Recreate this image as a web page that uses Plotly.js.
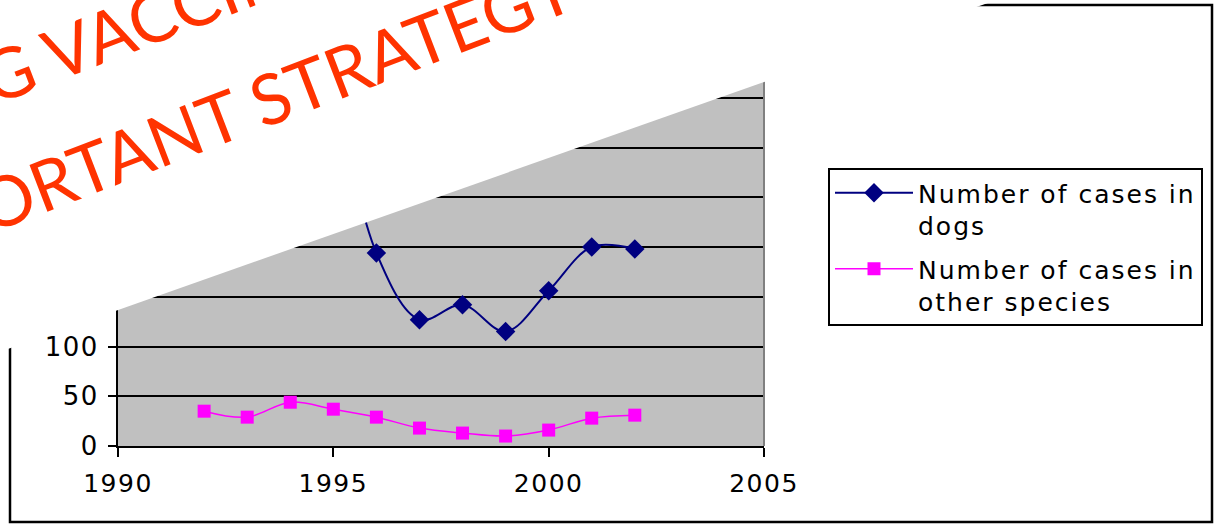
<!DOCTYPE html>
<html>
<head>
<meta charset="utf-8">
<script src="https://cdn.plot.ly/plotly-3.0.1.min.js"></script>
<style>
html,body{margin:0;padding:0;background:#fff;overflow:hidden;}
#chart{width:1216px;height:529px;}
.legendtext{letter-spacing:2px;}
.xtick text, .ytick text{letter-spacing:1.5px;}
</style>
</head>
<body>
<div id="chart"></div>
<script>
// Data
var dogYears = [1995, 1996, 1997, 1998, 1999, 2000, 2001, 2002];
var dogCases = [380, 194, 127, 142, 115, 156, 200, 198];
var otherYears = [1992, 1993, 1994, 1995, 1996, 1997, 1998, 1999, 2000, 2001, 2002];
var otherCases = [35, 29, 44, 37, 29, 18, 13, 10, 16, 28, 31];
var seriesNames = ["Number of cases in<br>dogs", "Number of cases in<br>other species"];
var titleLine1 = "DOG VACCINATION IS AN";
var titleLine2 = "IMPORTANT STRATEGY";

var FONT = "DejaVu Sans, Verdana, sans-serif";
var TITLE_FONT = "Lato, Open Sans, sans-serif";

var traces = [
  {
    x: dogYears, y: dogCases, name: seriesNames[0], legendgroup: "dogs",
    type: "scatter", mode: "lines+markers",
    line: {color: "#000080", width: 2, shape: "spline", smoothing: 1},
    marker: {symbol: "diamond", size: 15, color: "#000080"}
  },
  {
    x: otherYears, y: otherCases, name: seriesNames[1], legendgroup: "other",
    type: "scatter", mode: "lines+markers",
    line: {color: "#ff00ff", width: 1.5, shape: "spline", smoothing: 1},
    marker: {symbol: "square", size: 13, color: "#ff00ff"}
  }
];

// paper-coordinate helpers: plot area 118..764 px horizontally, 48..446 px vertically
var L = 118, R = 764, T = 48, B = 446;
function px(x){ return (x - L) / (R - L); }
function py(y){ return (B - y) / (B - T); }

// diagonal white cover through (118,310) and (985,4)
var ax0 = px(118), ay0 = py(310), ax1 = px(985), ay1 = py(4);
var slope = (ay1 - ay0) / (ax1 - ax0);
var xl = -0.3, xr = 2.0;
var yl = ay0 + slope * (xl - ax0), yr = ay0 + slope * (xr - ax0);
var coverPath = "M " + xl + "," + yl + " L " + xr + "," + yr + " L " + xr + ",2.2 L " + xl + ",2.2 Z";

var layout = {
  width: 1216, height: 529,
  margin: {l: L, r: 1216 - R, t: T, b: 529 - B, pad: 0},
  paper_bgcolor: "#ffffff",
  plot_bgcolor: "#c0c0c0",
  showlegend: true,
  font: {family: FONT, color: "#000000", size: 25},
  xaxis: {
    range: [1990, 2005], tickmode: "linear", tick0: 1990, dtick: 5,
    showgrid: false, zeroline: false,
    showline: true, linecolor: "#000000", linewidth: 2,
    ticks: "outside", ticklen: 9, tickwidth: 2, tickcolor: "#000000",
    tickfont: {family: FONT, size: 25, color: "#000000"},
    ticklabelstandoff: 5
  },
  yaxis: {
    range: [0, 400], tickmode: "linear", tick0: 0, dtick: 50,
    showgrid: true, gridcolor: "#000000", gridwidth: 2,
    zeroline: false,
    showline: true, linecolor: "#000000", linewidth: 2,
    ticks: "outside", ticklen: 8, tickwidth: 2, tickcolor: "#000000",
    tickfont: {family: FONT, size: 26, color: "#000000"},
    ticklabelstandoff: 4
  },
  legend: {
    x: px(828), y: py(168), xanchor: "left", yanchor: "top",
    bgcolor: "#ffffff", bordercolor: "#000000", borderwidth: 2,
    font: {family: FONT, size: 25, color: "#000000"},
    valign: "top", itemwidth: 78, tracegroupgap: 8
  },
  shapes: [
    {type: "line", xref: "paper", yref: "paper", x0: 1, x1: 1, y0: 0, y1: 1,
     line: {color: "#808080", width: 2}, layer: "above"},
    {type: "rect", xref: "paper", yref: "paper",
     x0: px(10), x1: px(1212), y0: py(522), y1: py(5),
     line: {color: "#000000", width: 2.5}, fillcolor: "rgba(0,0,0,0)", layer: "above"},
    {type: "path", xref: "paper", yref: "paper", path: coverPath,
     fillcolor: "#ffffff", line: {width: 0}, layer: "above"}
  ],
  annotations: [
    {text: titleLine1, xref: "paper", yref: "paper", x: px(272), y: py(-30),
     xanchor: "center", yanchor: "middle", showarrow: false, textangle: -21,
     font: {family: TITLE_FONT, size: 70, color: "#ff3300"}},
    {text: titleLine2, xref: "paper", yref: "paper", x: px(216), y: py(118),
     xanchor: "center", yanchor: "middle", showarrow: false, textangle: -21,
     font: {family: TITLE_FONT, size: 70, color: "#ff3300"}}
  ]
};

Plotly.newPlot("chart", traces, layout, {displayModeBar: false, staticPlot: true});
</script>
</body>
</html>
